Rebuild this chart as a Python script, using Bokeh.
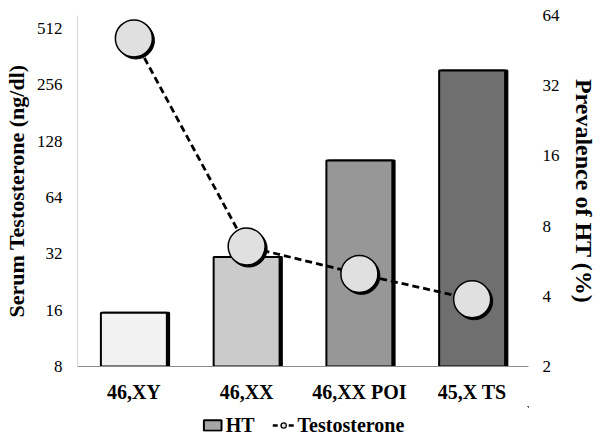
import numpy as np
from bokeh.plotting import figure
from bokeh.layouts import column
from bokeh.models import (Range1d, LogScale, LogAxis, FixedTicker, PrintfTickFormatter,
                          FactorRange, ColumnDataSource, Legend, LegendItem)
from bokeh.transform import dodge
from bokeh.embed import file_html
from bokeh.resources import INLINE

# ---- data ----
categories = ["46,XY", "46,XX", "46,XX POI", "45,X TS"]
ht_prevalence = [3.4, 5.9, 15.3, 37.2]          # % (right axis)
testosterone = [453, 35, 25, 18.3]              # ng/dl (left axis)
bar_colors = ["#f2f2f2", "#cbcbcb", "#979797", "#6f6f6f"]
left_ticks = [8, 16, 32, 64, 128, 256, 512]
right_ticks = [2, 4, 8, 16, 32, 64]

FONT = "Liberation Serif"

src = ColumnDataSource(data=dict(cat=categories, ht=ht_prevalence, t=testosterone,
                                 color=bar_colors,
                                 t_shadow=list(np.array(testosterone) * 2 ** (-2 / 56.3))))

p = figure(width=601, height=406, x_range=FactorRange(*categories),
           y_axis_type="log", y_range=Range1d(8, 601),
           output_backend="svg", toolbar_location=None,
           min_border_left=77, min_border_right=73, min_border_top=15, min_border_bottom=40)
p.outline_line_color = None
p.xgrid.grid_line_color = None
p.ygrid.grid_line_color = None

p.extra_y_ranges = {"ht": Range1d(2, 64)}
p.extra_y_scales = {"ht": LogScale()}

# bars (right axis) with a small shadow
p.vbar(x=dodge("cat", 0.02, range=p.x_range), top="ht", bottom=2, width=0.585, source=src,
       y_range_name="ht", fill_color="black", line_color="black", line_width=2)
p.vbar(x="cat", top="ht", bottom=2, width=0.585, source=src, y_range_name="ht",
       fill_color="color", line_color="black", line_width=2)

# testosterone line + circles (left axis)
p.line(x="cat", y="t", source=src, line_color="black", line_width=2.8, line_dash="7 4")
p.scatter(x=dodge("cat", 0.018, range=p.x_range), y="t_shadow", source=src, size=37,
          fill_color="black", line_color="black")
p.scatter(x="cat", y="t", source=src, size=37, fill_color="#e0e0e0",
          line_color="black", line_width=1.5)


def no_ticks(ax):
    ax.major_tick_line_color = None
    ax.minor_tick_line_color = None
    ax.major_tick_out = 0
    ax.major_tick_in = 0
    ax.minor_tick_out = 0
    ax.minor_tick_in = 0


# axes styling
xa = p.xaxis[0]
no_ticks(xa)
xa.axis_line_color = "#8c8c8c"
xa.axis_line_width = 1.2
xa.major_label_standoff = 14
xa.major_label_text_font = FONT
xa.major_label_text_font_style = "bold"
xa.major_label_text_font_size = "20px"
xa.major_label_text_color = "black"

ya = p.yaxis[0]
no_ticks(ya)
ya.ticker = FixedTicker(ticks=left_ticks)
ya.formatter = PrintfTickFormatter(format="%d")
ya.axis_line_color = "#d6d6d6"
ya.major_label_standoff = 15
ya.major_label_text_font = FONT
ya.major_label_text_font_size = "17px"
ya.major_label_text_color = "black"
ya.axis_label = "Serum Testosterone (ng/dl)"
ya.axis_label_text_font = FONT
ya.axis_label_text_font_style = "bold"
ya.axis_label_text_font_size = "22px"
ya.axis_label_text_color = "black"
ya.axis_label_standoff = 5

ra = LogAxis(y_range_name="ht", ticker=FixedTicker(ticks=right_ticks),
             formatter=PrintfTickFormatter(format="%d"))
no_ticks(ra)
ra.axis_line_color = None
ra.major_label_standoff = 14
ra.major_label_text_font = FONT
ra.major_label_text_font_size = "17px"
ra.major_label_text_color = "black"
ra.axis_label = "Prevalence of HT (%)"
ra.axis_label_text_font = FONT
ra.axis_label_text_font_style = "bold"
ra.axis_label_text_font_size = "24px"
ra.axis_label_text_color = "black"
ra.axis_label_standoff = 8
p.add_layout(ra, "right")

# ---- legend strip (own small figure; its glyph data lie outside its view) ----
lg = figure(width=601, height=38, x_range=Range1d(0, 1), y_range=Range1d(0, 1),
            x_axis_location=None, y_axis_location=None,
            output_backend="svg", toolbar_location=None,
            min_border_left=0, min_border_right=0, min_border_top=0, min_border_bottom=0)
lg.outline_line_color = None
lg.xgrid.grid_line_color = None
lg.ygrid.grid_line_color = None
lsrc = ColumnDataSource(data=dict(v=ht_prevalence))
ht_leg = lg.vbar(x="v", top="v", bottom="v", width=0.5, source=lsrc,
                 fill_color="#a6a6a6", line_color="black", line_width=2)
ln_leg = lg.line(x="v", y="v", source=lsrc, line_color="black", line_width=2.5,
                 line_dash="5 3")
ci_leg = lg.scatter(x="v", y="v", source=lsrc, size=15, fill_color="#e0e0e0",
                    line_color="black", line_width=1.2)

legend = Legend(items=[LegendItem(label="HT", renderers=[ht_leg]),
                       LegendItem(label="Testosterone", renderers=[ln_leg, ci_leg])],
                orientation="horizontal", location="center")
legend.label_text_font = FONT
legend.label_text_font_style = "bold"
legend.label_text_font_size = "20px"
legend.label_text_color = "black"
legend.border_line_color = None
legend.background_fill_alpha = 0
legend.glyph_width = 22
legend.glyph_height = 13
legend.label_standoff = 3
legend.spacing = 18
legend.padding = 4
legend.margin = 0
lg.add_layout(legend, "center")

layout = column(p, lg, spacing=0)
open("out.html", "w").write(file_html(layout, INLINE))
